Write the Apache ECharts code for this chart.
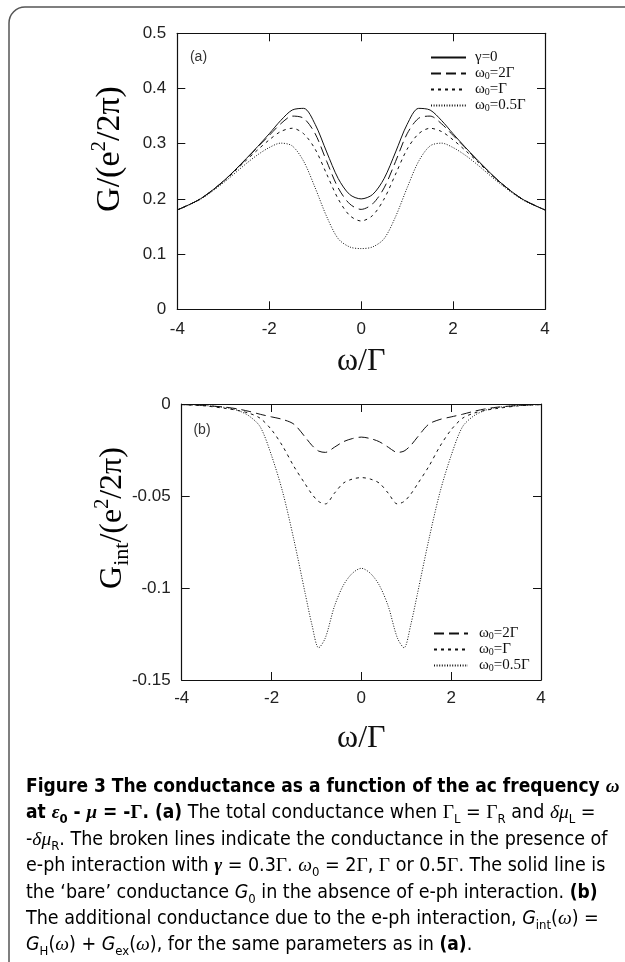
<!DOCTYPE html>
<html><head><meta charset="utf-8">
<script src="https://cdn.jsdelivr.net/npm/echarts@6/dist/echarts.min.js"></script>
<style>html,body{margin:0;padding:0;background:#fff}#c{width:625px;height:962px}</style>
</head><body><div id="c"></div>
<script>
// ---------- data: panel (a) ----------
const xA = [-4,-3.5,-3,-2.5,-2.25,-2,-1.75,-1.5,-1.25,-1,-0.75,-0.5,-0.25,0,0.25,0.5,0.75,1,1.25,1.5,1.75,2,2.25,2.5,3,3.5,4];
const gBare = [0.180,0.200,0.232,0.273,0.295,0.318,0.342,0.361,0.364,0.335,0.285,0.237,0.208,0.200,0.208,0.237,0.285,0.335,0.364,0.361,0.342,0.318,0.295,0.273,0.232,0.200,0.180];
const gW2 = [0.180,0.200,0.232,0.272,0.294,0.315,0.336,0.350,0.346,0.318,0.268,0.220,0.191,0.181,0.191,0.220,0.268,0.318,0.346,0.350,0.336,0.315,0.294,0.272,0.232,0.200,0.180];
const gW1 = [0.180,0.200,0.231,0.270,0.289,0.307,0.322,0.328,0.318,0.290,0.245,0.200,0.170,0.160,0.170,0.200,0.245,0.290,0.318,0.328,0.322,0.307,0.289,0.270,0.231,0.200,0.180];
const gW05 = [0.180,0.199,0.229,0.264,0.280,0.293,0.301,0.296,0.268,0.220,0.168,0.128,0.113,0.110,0.113,0.128,0.168,0.220,0.268,0.296,0.301,0.293,0.280,0.264,0.229,0.199,0.180];
// ---------- data: panel (b) ----------
const xB = [-4,-3.5,-3,-2.75,-2.5,-2.25,-2,-1.75,-1.5,-1.25,-1.1,-0.95,-0.8,-0.6,-0.4,-0.2,0,0.2,0.4,0.6,0.8,0.95,1.1,1.25,1.5,1.75,2,2.25,2.5,2.75,3,3.5,4];
const iW2 = [-0.0003,-0.0008,-0.0018,-0.0027,-0.0040,-0.0056,-0.0070,-0.0084,-0.0110,-0.0180,-0.0225,-0.0256,-0.0263,-0.0235,-0.0205,-0.0188,-0.0180,-0.0188,-0.0205,-0.0235,-0.0263,-0.0256,-0.0225,-0.0180,-0.0110,-0.0084,-0.0070,-0.0056,-0.0040,-0.0027,-0.0018,-0.0008,-0.0003];
const iW1 = [-0.0003,-0.0010,-0.0025,-0.0035,-0.0050,-0.0078,-0.0140,-0.0230,-0.0340,-0.0435,-0.0490,-0.0530,-0.0543,-0.0485,-0.0430,-0.0408,-0.0400,-0.0408,-0.0430,-0.0485,-0.0543,-0.0530,-0.0490,-0.0435,-0.0340,-0.0230,-0.0140,-0.0078,-0.0050,-0.0035,-0.0025,-0.0010,-0.0003];
const iW05 = [-0.0003,-0.0008,-0.0020,-0.0035,-0.0065,-0.0125,-0.0280,-0.0480,-0.0740,-0.1030,-0.1200,-0.1325,-0.1270,-0.1100,-0.0985,-0.0920,-0.0893,-0.0920,-0.0985,-0.1100,-0.1270,-0.1325,-0.1200,-0.1030,-0.0740,-0.0480,-0.0280,-0.0125,-0.0065,-0.0035,-0.0020,-0.0008,-0.0003];
// ---------- names / ticks ----------
const namesA = ['γ=0','ω0=2Γ','ω0=Γ','ω0=0.5Γ'];
const namesB = ['ω0=2Γ','ω0=Γ','ω0=0.5Γ'];
const xTicks = {min:-4, max:4, interval:2};
const yTicksA = {min:0, max:0.5, interval:0.1};
const yTicksB = {min:-0.15, max:0, interval:0.05};

const SANS = '"Liberation Sans","Arial",sans-serif';
const NARROW = '"Liberation Sans Narrow","DejaVu Sans Condensed","Liberation Sans",sans-serif';
const SERIF = '"Liberation Serif","DejaVu Serif",serif';
const DASH = {solid:'solid', w2:[10,5], w1:[3,4], w05:[1,1.6]};

const pair = (xs, ys) => xs.map((x,i)=>[x, ys[i]]);
function line(name, xs, ys, dash, gi){
  return {type:'line', name, xAxisIndex:gi*2, yAxisIndex:gi*2, data:pair(xs,ys),
    showSymbol:false, symbol:'none', smooth:0.3, animation:false,
    itemStyle:{color:'#111'},
    lineStyle:{color:'#111', width:1, type:dash}, emphasis:{disabled:true}};
}
const axLine = {show:true, onZero:false, lineStyle:{color:'#111', width:1.2}};
function xAxes(gi, nameGap){
  const base = Object.assign({type:'value', gridIndex:gi, splitLine:{show:false}, axisLine:axLine,
    axisTick:{show:true, inside:true, length:8, lineStyle:{color:'#111', width:1}}}, xTicks);
  return [
    Object.assign({}, base, {position:'bottom', name:'ω/Γ', nameLocation:'middle', nameGap,
      nameTextStyle:{fontFamily:SERIF, fontSize:32, color:'#111'},
      axisLabel:{show:true, fontFamily:SANS, fontSize:17, color:'#222', margin:gi?10:12}}),
    Object.assign({}, base, {position:'top', axisLabel:{show:false}})
  ];
}
function yAxes(gi, t){
  const base = Object.assign({type:'value', gridIndex:gi, splitLine:{show:false}, axisLine:axLine,
    axisTick:{show:true, inside:true, length:8, lineStyle:{color:'#111', width:1}}}, t);
  return [
    Object.assign({}, base, {position:'left', axisLabel:{show:true, fontFamily:SANS, fontSize:17, color:'#222', margin:11}}),
    Object.assign({}, base, {position:'right', axisLabel:{show:false}})
  ];
}
const legendRich = {
  t:{fontFamily:SERIF, fontSize:15, color:'#111', lineHeight:15},
  s:{fontFamily:SERIF, fontSize:10, color:'#111', lineHeight:10, verticalAlign:'bottom'}
};
const legendFmt = n => n.startsWith('ω0') ? '{t|ω}{s|0}{t|' + n.slice(2) + '}' : '{t|' + n + '}';
const noMark = {color:'rgba(0,0,0,0)', borderColor:'rgba(0,0,0,0)', borderWidth:0};

const C = 19.5, CB = 19, LH = 26;
const cr = {
  b:{fontFamily:NARROW, fontWeight:'bold', fontSize:CB, lineHeight:LH, color:'#1a1a1a'},
  r:{fontFamily:NARROW, fontSize:C, lineHeight:LH, color:'#444'},
  it:{fontFamily:NARROW, fontStyle:'italic', fontSize:C, lineHeight:LH, color:'#444'},
  g:{fontFamily:SERIF, fontSize:C, lineHeight:LH, color:'#444'},
  gi:{fontFamily:SERIF, fontStyle:'italic', fontSize:C, lineHeight:LH, color:'#444'},
  gb:{fontFamily:SERIF, fontWeight:'bold', fontSize:CB, lineHeight:LH, color:'#1a1a1a'},
  gbi:{fontFamily:SERIF, fontWeight:'bold', fontStyle:'italic', fontSize:CB, lineHeight:LH, color:'#1a1a1a'},
  s:{fontFamily:NARROW, fontSize:13, lineHeight:16, verticalAlign:'bottom', color:'#444'},
  sb:{fontFamily:NARROW, fontWeight:'bold', fontSize:13, lineHeight:16, verticalAlign:'bottom', color:'#1a1a1a'}
};
const caption = [
  '{b|Figure 3 The conductance as a function of the ac frequency }{gbi|ω}',
  '{b|at }{gbi|ε}{sb|0}{b| - }{gbi|μ}{b| = -}{gb|Γ}{b|. (a)}{r| The total conductance when }{g|Γ}{s|L}{r| = }{g|Γ}{s|R}{r| and }{gi|δμ}{s|L}{r| =}',
  '{r|-}{gi|δμ}{s|R}{r|. The broken lines indicate the conductance in the presence of}',
  '{r|e-ph interaction with }{gbi|γ}{r| = 0.3}{g|Γ}{r|. }{gi|ω}{s|0}{r| = 2}{g|Γ}{r|, }{g|Γ}{r| or 0.5}{g|Γ}{r|. The solid line is}',
  '{r|the ‘bare’ conductance }{it|G}{s|0}{r| in the absence of e-ph interaction. }{b|(b)}',
  '{r|The additional conductance due to the e-ph interaction, }{it|G}{s|int}{r|(}{gi|ω}{r|) =}',
  '{it|G}{s|H}{r|(}{gi|ω}{r|) + }{it|G}{s|ex}{r|(}{gi|ω}{r|), for the same parameters as in }{b|(a)}{r|.}'
];
const capY = [787,813,840,866,893,919,945];

const graphic = [
  {type:'rect', shape:{x:9, y:7, width:700, height:1000, r:16}, style:{fill:'none', stroke:'#555', lineWidth:1.5}, z:-1},
  {type:'text', x:198.5, y:57.5, style:{text:'(a)', font:'14px "Liberation Sans"', fill:'#333', align:'center', verticalAlign:'middle'}},
  {type:'text', x:202, y:430, style:{text:'(b)', font:'14px "Liberation Sans"', fill:'#333', align:'center', verticalAlign:'middle'}},
  {type:'text', x:110, y:149, rotation:Math.PI/2, style:{text:'{n|G/(e}{p|2}{n|/2π)}', align:'center', verticalAlign:'middle',
    rich:{n:{fontFamily:SERIF, fontSize:34, lineHeight:42, color:'#111'}, p:{fontFamily:SERIF, fontSize:21, lineHeight:25, verticalAlign:'top', color:'#111'}}}},
  {type:'text', x:113, y:518, rotation:Math.PI/2, style:{text:'{n|G}{q|int}{n|/(e}{p|2}{n|/2π)}', align:'center', verticalAlign:'middle',
    rich:{n:{fontFamily:SERIF, fontSize:32, lineHeight:40, color:'#111'}, q:{fontFamily:SERIF, fontSize:22, lineHeight:30, verticalAlign:'bottom', color:'#111'}, p:{fontFamily:SERIF, fontSize:20, lineHeight:24, verticalAlign:'top', color:'#111'}}}}
].concat(caption.map((t,i)=>({type:'text', x:26, y:capY[i], style:{text:t, align:'left', verticalAlign:'middle', rich:cr}})));

const option = {
  animation:false,
  backgroundColor:'#fff',
  grid:[
    {left:177.3, right:80, top:33.3, bottom:652.7, containLabel:false, outerBoundsMode:'none'},
    {left:181.7, right:84, top:404, bottom:282, containLabel:false, outerBoundsMode:'none'}
  ],
  xAxis: xAxes(0, 36).concat(xAxes(1, 43)),
  yAxis: yAxes(0, yTicksA).concat(yAxes(1, yTicksB)),
  legend:[
    {data:namesA, orient:'vertical', left:430, top:50, padding:0, itemWidth:35, itemHeight:14, itemGap:1,
     formatter:legendFmt, textStyle:{rich:legendRich, padding:[0,0,0,4]}, selectedMode:false, itemStyle:noMark},
    {data:namesB, orient:'vertical', left:433, top:626, padding:0, itemWidth:34, itemHeight:14, itemGap:1,
     formatter:legendFmt, textStyle:{rich:legendRich, padding:[0,0,0,6]}, selectedMode:false, itemStyle:noMark}
  ],
  graphic,
  series:[
    line(namesA[0], xA, gBare, DASH.solid, 0),
    line(namesA[1], xA, gW2, DASH.w2, 0),
    line(namesA[2], xA, gW1, DASH.w1, 0),
    line(namesA[3], xA, gW05, DASH.w05, 0),
    line(namesB[0], xB, iW2, DASH.w2, 1),
    line(namesB[1], xB, iW1, DASH.w1, 1),
    line(namesB[2], xB, iW05, DASH.w05, 1)
  ]
};
const chart = echarts.init(document.getElementById('c'), null, {renderer:'canvas'});
chart.setOption(option);
</script></body></html>
